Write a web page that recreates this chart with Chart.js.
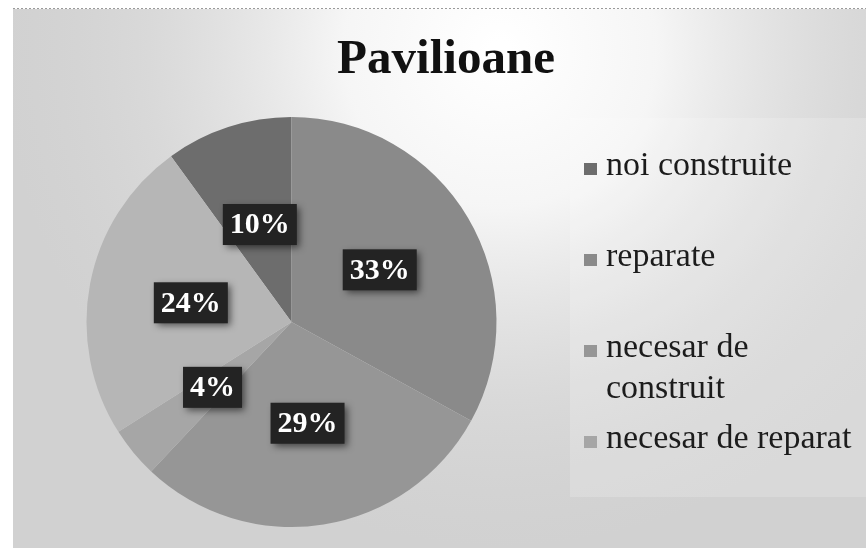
<!DOCTYPE html>
<html>
<head>
<meta charset="utf-8">
<script src="https://cdn.jsdelivr.net/npm/chart.js@4/dist/chart.umd.min.js"></script>
<style>
  html, body { margin: 0; padding: 0; background: #ffffff; }
  #wrap { width: 866px; height: 548px; position: relative; }
</style>
</head>
<body>
<div id="wrap"><canvas id="c" width="866" height="548"></canvas></div>
<script>
// ---- data ----
const chartTitle = 'Pavilioane';
const categories = ['noi construite', 'reparate', ['necesar de', 'construit'], 'necesar de reparat', ''];
const values = [10, 33, 29, 4, 24];
const sliceColors = ['#6d6d6d', '#8a8a8a', '#969696', '#a6a6a6', '#b6b6b6'];

const SERIF = '"Liberation Serif", "Times New Roman", serif';

const backgroundPlugin = {
  id: 'scanBackground',
  beforeDraw(chart) {
    const ctx = chart.ctx;
    const W = chart.width, H = chart.height;
    ctx.save();
    ctx.fillStyle = '#ffffff';
    ctx.fillRect(0, 0, W, H);
    ctx.fillStyle = '#d1d1d1';
    ctx.fillRect(13, 9, W - 13, H - 9);
    const g = ctx.createRadialGradient(500, 50, 10, 500, 50, 500);
    g.addColorStop(0, 'rgba(255,255,255,1)');
    g.addColorStop(0.3, 'rgba(252,252,252,0.85)');
    g.addColorStop(0.7, 'rgba(235,235,235,0.3)');
    g.addColorStop(1, 'rgba(220,220,220,0)');
    ctx.fillStyle = g;
    ctx.fillRect(13, 9, W - 13, H - 9);
    // lighter legend panel
    ctx.fillStyle = 'rgba(255,255,255,0.18)';
    ctx.fillRect(570, 118, W - 570, 379);
    // dotted top edge
    ctx.strokeStyle = '#9a9a9a';
    ctx.setLineDash([2, 2]);
    ctx.lineWidth = 1;
    ctx.beginPath();
    ctx.moveTo(13, 8.5);
    ctx.lineTo(W, 8.5);
    ctx.stroke();
    ctx.restore();
  }
};

const titleLegendPlugin = {
  id: 'titleLegend',
  afterDraw(chart) {
    const ctx = chart.ctx;
    ctx.save();
    // title
    ctx.fillStyle = '#111111';
    ctx.font = 'bold 49px ' + SERIF;
    ctx.textAlign = 'center';
    ctx.textBaseline = 'alphabetic';
    ctx.fillText(chartTitle, 446, 73);
    // legend
    const labels = chart.data.labels;
    const colors = chart.data.datasets[0].backgroundColor;
    ctx.font = '34px ' + SERIF;
    ctx.textAlign = 'left';
    let baseline = 175;
    labels.forEach((lab, i) => {
      const lines = Array.isArray(lab) ? lab : [lab];
      if (!lines.join('')) return;
      ctx.fillStyle = colors[i];
      ctx.fillRect(584, baseline - 12, 13, 12);
      ctx.fillStyle = '#1c1c1c';
      lines.forEach((ln, k) => ctx.fillText(ln, 606, baseline + k * 41));
      baseline += 91;
    });
    ctx.restore();
  }
};

const valueLabelPlugin = {
  id: 'valueLabels',
  afterDatasetsDraw(chart) {
    const ctx = chart.ctx;
    const meta = chart.getDatasetMeta(0);
    const data = chart.data.datasets[0].data;
    ctx.save();
    ctx.font = 'bold 30px ' + SERIF;
    ctx.textAlign = 'center';
    ctx.textBaseline = 'middle';
    meta.data.forEach((arc, i) => {
      const p = arc.tooltipPosition();
      const txt = data[i] + '%';
      const w = ctx.measureText(txt).width + 14;
      const h = 41;
      ctx.save();
      ctx.shadowColor = 'rgba(0,0,0,0.55)';
      ctx.shadowBlur = 7;
      ctx.shadowOffsetX = 3;
      ctx.shadowOffsetY = 3;
      ctx.fillStyle = '#232323';
      ctx.fillRect(p.x - w / 2, p.y - h / 2, w, h);
      ctx.restore();
      ctx.fillStyle = '#ffffff';
      ctx.fillText(txt, p.x, p.y + 1);
    });
    ctx.restore();
  }
};

new Chart(document.getElementById('c'), {
  type: 'pie',
  data: {
    labels: categories,
    datasets: [{
      data: values,
      backgroundColor: sliceColors,
      borderWidth: 0
    }]
  },
  options: {
    responsive: false,
    animation: false,
    rotation: -36,
    layout: { padding: { left: 86, right: 369, top: 117, bottom: 21 } },
    plugins: {
      legend: { display: false },
      title: { display: false },
      tooltip: { enabled: false }
    }
  },
  plugins: [backgroundPlugin, valueLabelPlugin, titleLegendPlugin]
});
</script>
</body>
</html>
